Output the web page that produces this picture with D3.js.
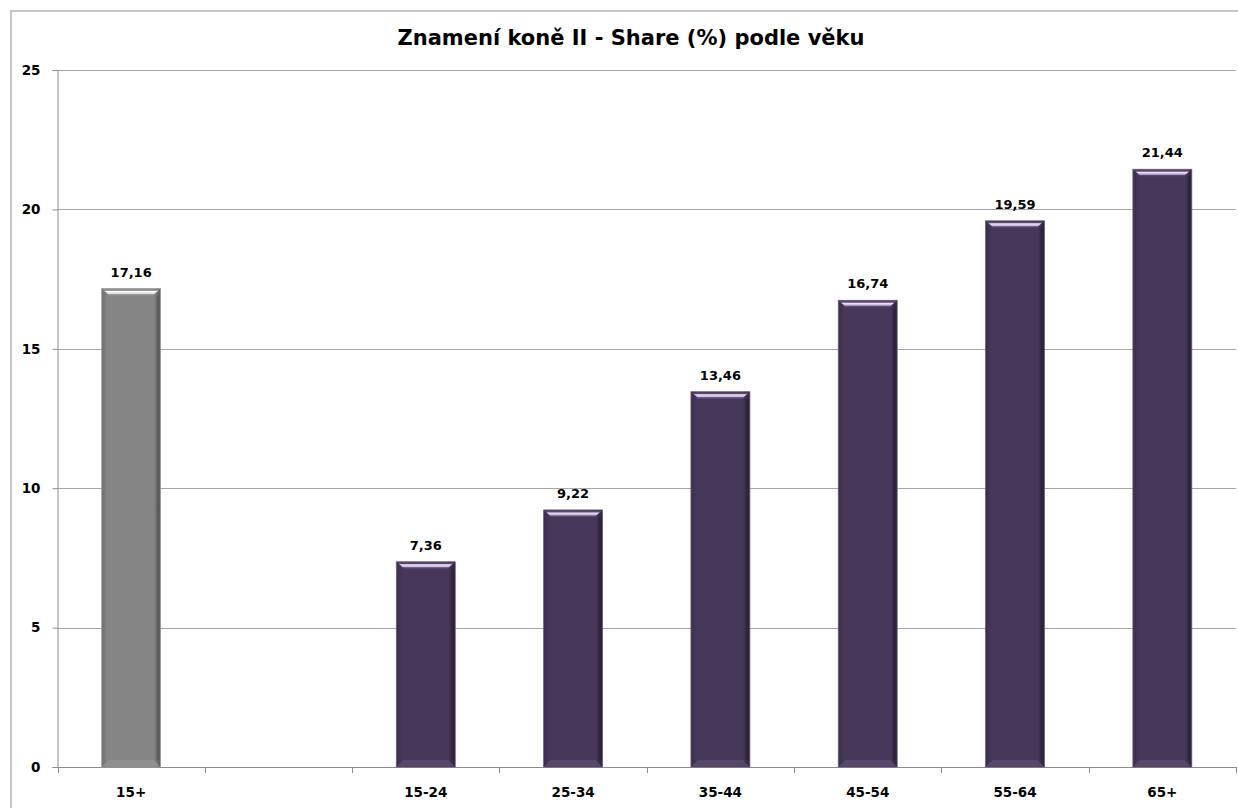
<!DOCTYPE html>
<html><head><meta charset="utf-8">
<script src="https://cdn.jsdelivr.net/npm/d3@7"></script>
<style>body{margin:0;background:#fff}svg{display:block}</style>
</head><body>
<svg id="c" width="1238" height="808"></svg>
<script>
const categories = ["15+", "", "15-24", "25-34", "35-44", "45-54", "55-64", "65+"];
const values = [17.16, null, 7.36, 9.22, 13.46, 16.74, 19.59, 21.44];
const yTicks = [0, 5, 10, 15, 20, 25];
const title = "Znamení koně II - Share (%) podle věku";

const svg = d3.select("#c");
const font = "'DejaVu Sans', Verdana, sans-serif";
const L = 57.5, R = 1236, T = 70, B = 767;

svg.append("rect").attr("x", 11).attr("y", 11).attr("width", 1240).attr("height", 810)
  .attr("fill", "#fff").attr("stroke", "#b4b4b4").attr("stroke-width", 1.5);

const x = d3.scaleBand().domain(d3.range(categories.length)).range([L, R]).paddingInner(0.6).paddingOuter(0.3);
const y = d3.scaleLinear().domain([0, 25]).range([B, T]);

// gridlines
svg.append("g").selectAll("line").data(yTicks.filter(d => d > 0)).join("line")
  .attr("x1", L).attr("x2", R).attr("y1", d => Math.round(y(d)) + 0.5).attr("y2", d => Math.round(y(d)) + 0.5)
  .attr("stroke", "#a6a6a6").attr("stroke-width", 1);

// y axis
const yAxis = svg.append("g").attr("transform", `translate(${L},0)`)
  .call(d3.axisLeft(y).tickValues(yTicks).tickSize(5).tickPadding(12).tickFormat(d3.format("d")));
yAxis.select(".domain").attr("stroke", "#8c8c8c");
yAxis.selectAll(".tick line").attr("stroke", "#8c8c8c");
yAxis.selectAll("text").attr("font-family", font).attr("font-weight", "bold").attr("font-size", 13.5).attr("fill", "#000");

// x axis
const step = (R - L) / categories.length;
const xg = svg.append("g");
xg.append("line").attr("x1", L).attr("x2", R).attr("y1", B + 0.5).attr("y2", B + 0.5).attr("stroke", "#8c8c8c");
xg.selectAll("line.t").data(d3.range(categories.length + 1)).join("line").attr("class", "t")
  .attr("x1", i => Math.round(L + i * step) + 0.5).attr("x2", i => Math.round(L + i * step) + 0.5)
  .attr("y1", B).attr("y2", B + 6).attr("stroke", "#8c8c8c");
xg.selectAll("text").data(categories).join("text")
  .attr("x", (d, i) => x(i) + x.bandwidth() / 2).attr("y", 797)
  .attr("text-anchor", "middle").attr("font-family", font).attr("font-weight", "bold").attr("font-size", 13.5)
  .text(d => d);

// gradients
const defs = svg.append("defs");
function mkGrad(id, edgeL, mid, edgeR) {
  const g = defs.append("linearGradient").attr("id", id).attr("x1", 0).attr("x2", 1).attr("y1", 0).attr("y2", 0);
  g.append("stop").attr("offset", 0).attr("stop-color", edgeL);
  g.append("stop").attr("offset", 0.1).attr("stop-color", mid);
  g.append("stop").attr("offset", 0.88).attr("stop-color", mid);
  g.append("stop").attr("offset", 1).attr("stop-color", edgeR);
}
mkGrad("gGray", "#6e6e6e", "#858585", "#5a5a5a");
mkGrad("gPur", "#3a2d4a", "#47375a", "#2e2339");
function mkV(id, c1, c2) {
  const g = defs.append("linearGradient").attr("id", id).attr("x1", 0).attr("x2", 0).attr("y1", 0).attr("y2", 1);
  g.append("stop").attr("offset", 0).attr("stop-color", c1);
  g.append("stop").attr("offset", 1).attr("stop-color", c2);
}
mkV("tGray", "#ffffff", "#d8d8d8");
mkV("tPur", "#f4eeff", "#b8a8d0");

const data = categories.map((c, i) => ({c, v: values[i], i})).filter(d => d.v != null);
const bars = svg.append("g").selectAll("g").data(data).join("g");
bars.each(function(d) {
  const g = d3.select(this);
  const gray = d.i === 0;
  const x0 = x(d.i), w = x.bandwidth(), y0 = y(d.v), h = B - y0;
  g.append("rect").attr("x", x0).attr("y", y0).attr("width", w).attr("height", h)
    .attr("fill", `url(#${gray ? "gGray" : "gPur"})`).attr("stroke", gray ? "#9a9a9a" : "#6a5b7c").attr("stroke-width", 0.8);
  const b = 7;
  g.append("path").attr("d", `M${x0+1},${y0+1} L${x0+w-1},${y0+1} L${x0+w-b},${y0+b} L${x0+b},${y0+b} Z`)
    .attr("fill", gray ? "#999" : "#5a4a6e");
  g.append("path").attr("d", `M${x0+3},${y0+2.5} L${x0+w-3},${y0+2.5} L${x0+w-b+0.5},${y0+b-1.5} L${x0+b-0.5},${y0+b-1.5} Z`)
    .attr("fill", `url(#${gray ? "tGray" : "tPur"})`);
  g.append("path").attr("d", `M${x0+1},${B-1} L${x0+w-1},${B-1} L${x0+w-b},${B-b} L${x0+b},${B-b} Z`)
    .attr("fill", gray ? "#8f8f8f" : "#57476b");
  g.append("rect").attr("x", x0 + w - 4).attr("y", y0 + b).attr("width", 3).attr("height", h - 2*b)
    .attr("fill", gray ? "#555" : "#2a2035").attr("opacity", 0.6);
  g.append("text").attr("x", x0 + w / 2).attr("y", y0 - 12).attr("text-anchor", "middle")
    .attr("font-family", font).attr("font-weight", "bold").attr("font-size", 13).attr("fill", "#000")
    .text(d3.format(".2f")(d.v).replace(".", ","));
});

svg.append("text").attr("x", 631).attr("y", 45).attr("text-anchor", "middle")
  .attr("font-family", font).attr("font-weight", "bold").attr("font-size", 21).attr("fill", "#000").text(title);
</script>
</body></html>
